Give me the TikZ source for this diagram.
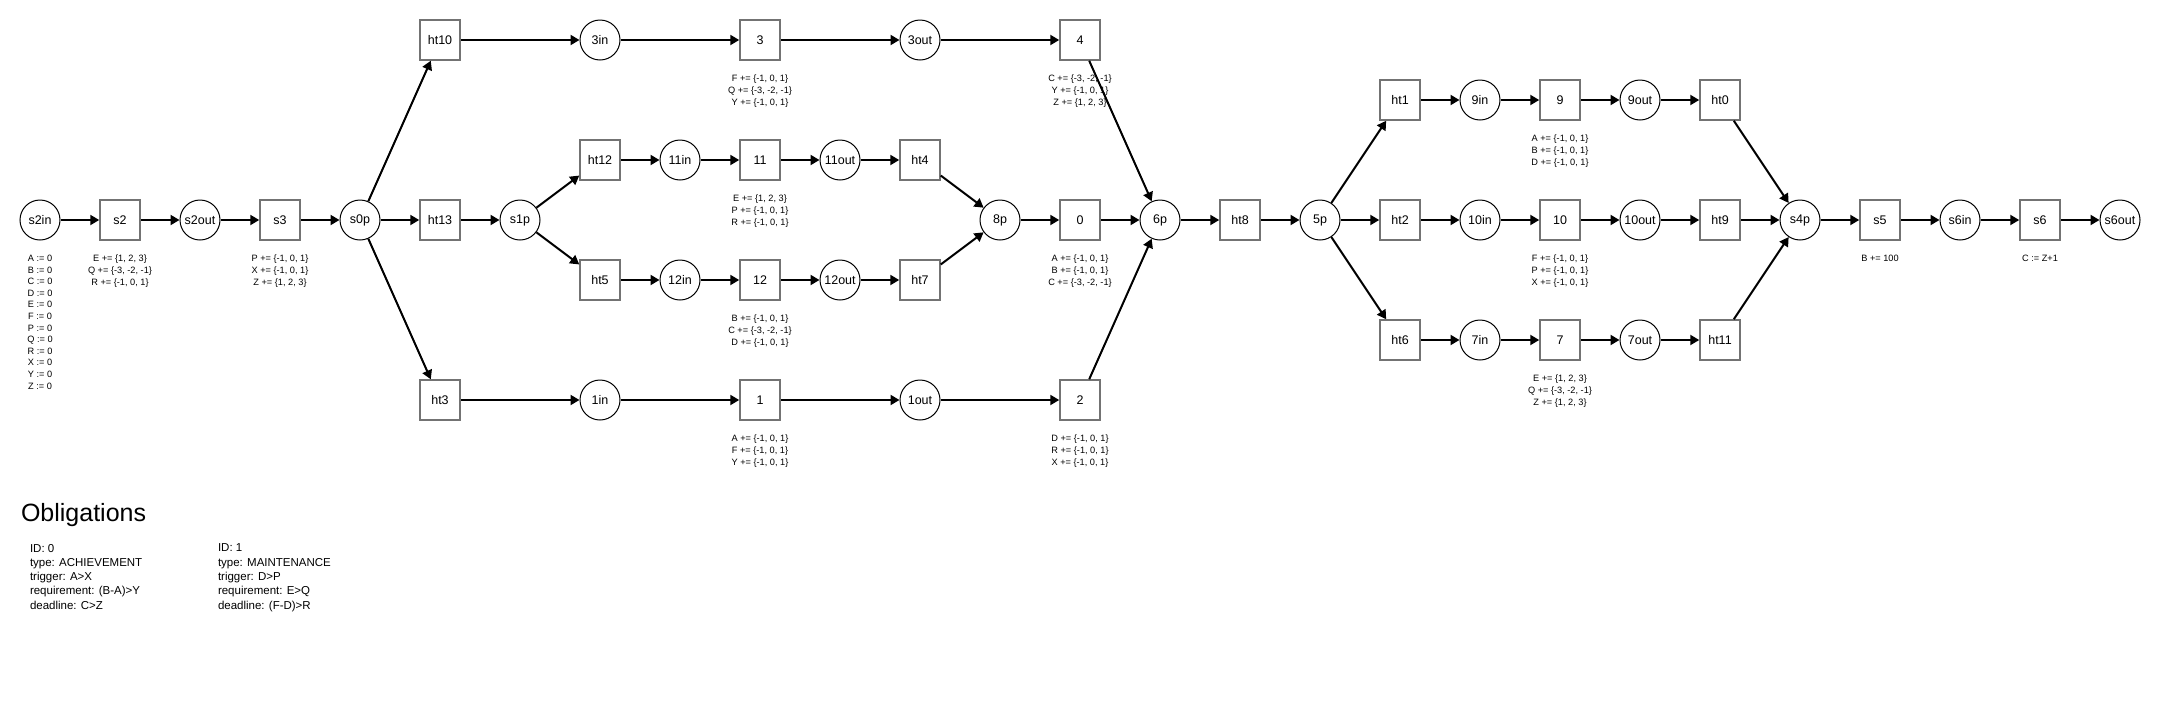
\documentclass[tikz,border=0pt]{standalone}
\usepackage{fontspec}
\setmainfont{Liberation Sans}
\usetikzlibrary{arrows.meta}

\begin{document}
\begin{tikzpicture}[x=1pt,y=-1pt,-{Triangle[length=9pt,width=10pt]},line width=2pt]
                \tikzstyle{place}=[circle,draw=black,line width=1pt,fill=white,minimum size=40pt,inner sep=0pt,font=\fontsize{12.5}{14}\selectfont]
                \tikzstyle{block}=[rectangle,draw=black!55,line width=1.5pt,fill=white,minimum size=40pt,inner sep=0pt,font=\fontsize{12.5}{14}\selectfont]
                \tikzstyle{note}=[align=center,anchor=north,inner sep=0pt,font=\fontsize{9.2}{11.6}\selectfont]
                \tikzstyle{oblig}=[align=left,anchor=north west,inner sep=0pt,font=\fontsize{11.5}{14.3}\selectfont]
                \useasboundingbox (0,0) rectangle (2160,710);

                \foreach \num/\x/\y in {s2in/40/220, s2out/200/220, s0p/360/220, 3in/600/40, 3out/920/40, s1p/520/220,
                        11in/680/160, 11out/840/160, 12in/680/280, 12out/840/280, 8p/1000/220, 1in/600/400, 1out/920/400,
                        6p/1160/220, 5p/1320/220, 9in/1480/100, 9out/1640/100, 10in/1480/220, 10out/1640/220,
                        7in/1480/340, 7out/1640/340, s4p/1800/220, s6in/1960/220, s6out/2120/220}
                        \node[place] (V-\num) at (\x,\y) {\num};

                \foreach \num/\x/\y in {s2/120/220, s3/280/220, ht10/440/40, 3/760/40, 4/1080/40, ht13/440/220,
                        ht12/600/160, 11/760/160, ht4/920/160, ht5/600/280, 12/760/280, ht7/920/280, 0/1080/220,
                        ht3/440/400, 1/760/400, 2/1080/400, ht8/1240/220, ht1/1400/100, 9/1560/100, ht0/1720/100,
                        ht2/1400/220, 10/1560/220, ht9/1720/220, ht6/1400/340, 7/1560/340, ht11/1720/340,
                        s5/1880/220, s6/2040/220}
                        \node[block] (V-\num) at (\x,\y) {\num};

                    \foreach \from/\to in {s2in/s2, s2/s2out, s2out/s3, s3/s0p, s0p/ht10, s0p/ht13, s0p/ht3,
                        ht10/3in, 3in/3, 3/3out, 3out/4, 4/6p, ht13/s1p, s1p/ht12, s1p/ht5,
                        ht12/11in, 11in/11, 11/11out, 11out/ht4, ht4/8p, ht5/12in, 12in/12, 12/12out, 12out/ht7, ht7/8p,
                        8p/0, 0/6p, ht3/1in, 1in/1, 1/1out, 1out/2, 2/6p, 6p/ht8, ht8/5p, 5p/ht1, 5p/ht2, 5p/ht6,
                        ht1/9in, 9in/9, 9/9out, 9out/ht0, ht0/s4p, ht2/10in, 10in/10, 10/10out, 10out/ht9, ht9/s4p,
                        ht6/7in, 7in/7, 7/7out, 7out/ht11, ht11/s4p, s4p/s5, s5/s6in, s6in/s6, s6/s6out}
                        \draw (V-\from) -- (V-\to);

                    % effects written under the nodes
                    \foreach \num/\txt in {
                        s2in/{A := 0\\B := 0\\C := 0\\D := 0\\E := 0\\F := 0\\P := 0\\Q := 0\\R := 0\\X := 0\\Y := 0\\Z := 0},
                        s2/{E += \{1, 2, 3\}\\Q += \{-3, -2, -1\}\\R += \{-1, 0, 1\}},
                        s3/{P += \{-1, 0, 1\}\\X += \{-1, 0, 1\}\\Z += \{1, 2, 3\}},
                        3/{F += \{-1, 0, 1\}\\Q += \{-3, -2, -1\}\\Y += \{-1, 0, 1\}},
                        4/{C += \{-3, -2, -1\}\\Y += \{-1, 0, 1\}\\Z += \{1, 2, 3\}},
                        11/{E += \{1, 2, 3\}\\P += \{-1, 0, 1\}\\R += \{-1, 0, 1\}},
                        12/{B += \{-1, 0, 1\}\\C += \{-3, -2, -1\}\\D += \{-1, 0, 1\}},
                        0/{A += \{-1, 0, 1\}\\B += \{-1, 0, 1\}\\C += \{-3, -2, -1\}},
                        1/{A += \{-1, 0, 1\}\\F += \{-1, 0, 1\}\\Y += \{-1, 0, 1\}},
                        2/{D += \{-1, 0, 1\}\\R += \{-1, 0, 1\}\\X += \{-1, 0, 1\}},
                        9/{A += \{-1, 0, 1\}\\B += \{-1, 0, 1\}\\D += \{-1, 0, 1\}},
                        10/{F += \{-1, 0, 1\}\\P += \{-1, 0, 1\}\\X += \{-1, 0, 1\}},
                        7/{E += \{1, 2, 3\}\\Q += \{-3, -2, -1\}\\Z += \{1, 2, 3\}},
                        s5/{B += 100},
                        s6/{C := Z+1}}
                        \node[note] (L-\num) at ([yshift=-13.5pt]V-\num.south) {\txt};

                    % obligations
                    \node[anchor=base west,inner sep=0pt,font=\fontsize{25}{30}\selectfont] (O-head) at (20,521.5) {Obligations};
                    \node[oblig] (O-0) at (29,543) {ID: 0\\type: ACHIEVEMENT\\trigger: A>X\\requirement: (B-A)>Y\\deadline: C>Z};
                    \node[oblig] (O-1) at (217,543) {ID: 1\\type: MAINTENANCE\\trigger: D>P\\requirement: E>Q\\deadline: (F-D)>R};

            \end{tikzpicture}
\end{document}
